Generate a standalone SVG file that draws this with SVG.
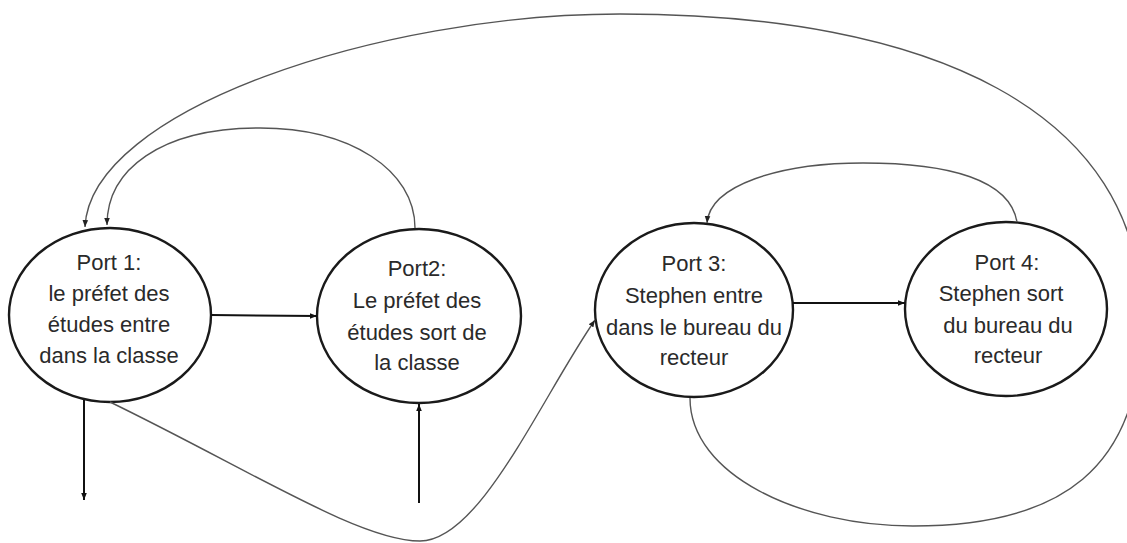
<svg xmlns="http://www.w3.org/2000/svg" width="1127" height="543" viewBox="0 0 1127 543">
  <style>
    .node ellipse { fill: #ffffff; stroke: #1a1a1a; stroke-width: 2.4; }
    .node text { font-family: "Liberation Sans", Arial, sans-serif; font-size: 22px; fill: #2a2a2a; text-anchor: middle; }
    .straight { fill: none; stroke: #111111; stroke-width: 2; }
    .curve { fill: none; stroke: #555555; stroke-width: 1.4; }
  </style>
  <defs>
    <marker id="headBold" viewBox="0 0 10 10" refX="10" refY="5" markerWidth="7" markerHeight="7" markerUnits="userSpaceOnUse" orient="auto">
      <path d="M0,1 L10,5 L0,9 Z" fill="#111111"/>
    </marker>
    <marker id="headThin" viewBox="0 0 10 10" refX="10" refY="5" markerWidth="7" markerHeight="7" markerUnits="userSpaceOnUse" orient="auto">
      <path d="M0,1 L10,5 L0,9 Z" fill="#222222"/>
    </marker>
  </defs>

  <rect width="1127" height="543" fill="#ffffff"/>

  <g id="port1" class="node">
    <ellipse cx="110" cy="315" rx="101" ry="87"/>
    <text x="109" y="270">Port 1:</text>
    <text x="109" y="301">le préfet des</text>
    <text x="109" y="332">études entre</text>
    <text x="109" y="363">dans la classe</text>
  </g>

  <g id="port2" class="node">
    <ellipse cx="419" cy="316" rx="102" ry="87"/>
    <text x="417" y="276">Port2:</text>
    <text x="417" y="308">Le préfet des</text>
    <text x="417" y="340">études sort de</text>
    <text x="417" y="370">la classe</text>
  </g>

  <g id="port3" class="node">
    <ellipse cx="694" cy="310" rx="99" ry="87"/>
    <text x="694" y="271">Port 3:</text>
    <text x="694" y="303">Stephen entre</text>
    <text x="694" y="335">dans le bureau du</text>
    <text x="694" y="365">recteur</text>
  </g>

  <g id="port4" class="node">
    <ellipse cx="1006" cy="309" rx="101" ry="87"/>
    <text x="1007" y="270">Port 4:</text>
    <text x="1001" y="301">Stephen sort</text>
    <text x="1008" y="333">du bureau du</text>
    <text x="1008" y="363">recteur</text>
  </g>

  <g id="connectors">
    <!-- straight transitions -->
    <line class="straight" x1="211" y1="315" x2="317" y2="316" marker-end="url(#headBold)"/>
    <line class="straight" x1="793" y1="303" x2="905" y2="303" marker-end="url(#headBold)"/>
    <line class="straight" x1="84" y1="400" x2="84" y2="500" marker-end="url(#headBold)"/>
    <line class="straight" x1="419" y1="503" x2="419" y2="404" marker-end="url(#headBold)"/>

    <!-- Port 2 back to Port 1 -->
    <path class="curve" d="M415,228 C415,170 350,128 260,128 C160,128 107,170 107,225" marker-end="url(#headThin)"/>
    <!-- Port 4 back to Port 3 -->
    <path class="curve" d="M1017,222 C1010,180 950,163 863,163 C780,163 710,185 707,223" marker-end="url(#headThin)"/>
    <!-- Port 1 down and across to Port 3 -->
    <path class="curve" d="M110,402 C250,470 360,541 420,541 C480,541 540,400 595,320" marker-end="url(#headThin)"/>
    <!-- Port 3 round the right side and over the top to Port 1 -->
    <path class="curve" d="M690,398 C690,475 800,526 913,526 C1060,526 1142,470 1142,320 C1142,110 930,14 620,14 C380,14 90,110 85,227" marker-end="url(#headThin)"/>
  </g>
</svg>
